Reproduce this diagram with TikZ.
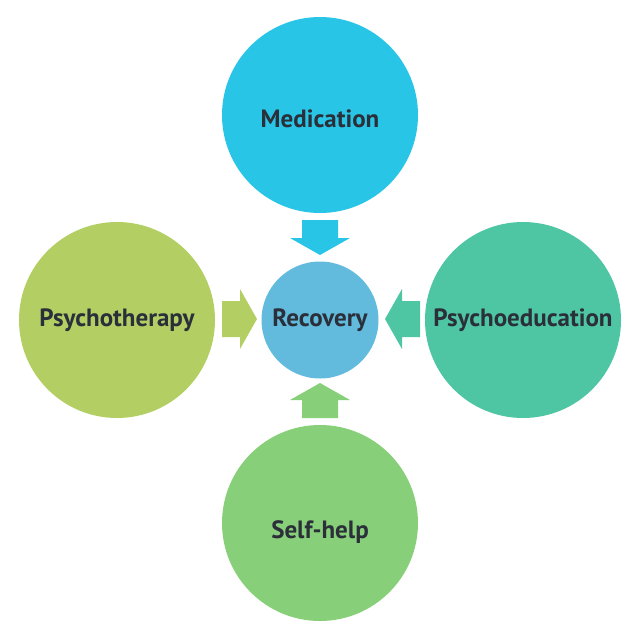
\documentclass[tikz,border=0pt]{standalone}
\usepackage{fontspec}
\setmainfont{PT Sans}
\definecolor{medcol}{HTML}{29C5E6}
\definecolor{reccol}{HTML}{62BADC}
\definecolor{thercol}{HTML}{B3CF63}
\definecolor{educol}{HTML}{4FC6A3}
\definecolor{helpcol}{HTML}{88CF79}
\definecolor{textcol}{HTML}{2A2F3A}

\begin{document}
\begin{tikzpicture} [x=1pt, y=-1pt,
    source/.style={circle,inner sep=0pt,minimum size=196pt,
                   font=\bfseries\fontsize{25}{30}\selectfont,text=textcol},
    goal/.style={circle,inner sep=0pt,minimum size=117pt,fill=reccol,
                 font=\bfseries\fontsize{25}{30}\selectfont,text=textcol},
    feed/.pic={\fill (0,-18) -- (18,-18) -- (18,-30) -- (35,0)
                     -- (18,30) -- (18,18) -- (0,18) -- cycle;}
]
    \useasboundingbox (0,0) rectangle (640,635);
    \node[goal]                    (recovery)        at (320,320) {Recovery};
    \node[source,fill=medcol,text height=24.5pt,text depth=0pt]
                                   (medication)      at (320,115) {Medication};
    \node[source,fill=thercol]     (psychotherapy)   at (117,320) {Psychotherapy};
    \node[source,fill=educol]      (psychoeducation) at (523,320) {Psychoeducation};
    \node[source,fill=helpcol,text height=36.5pt,text depth=6pt]
                                   (selfhelp)        at (320,523) {Self-help};
    % arrows into recovery
    \pic[fill=medcol,rotate=-90]  (from med)  at (320,220) {feed};
    \pic[fill=thercol]            (from ther) at (222,319) {feed};
    \pic[fill=educol,rotate=180]  (from edu)  at (420,319) {feed};
    \pic[fill=helpcol,rotate=90]  (from help) at (320,418) {feed};
\end{tikzpicture}
\end{document}
